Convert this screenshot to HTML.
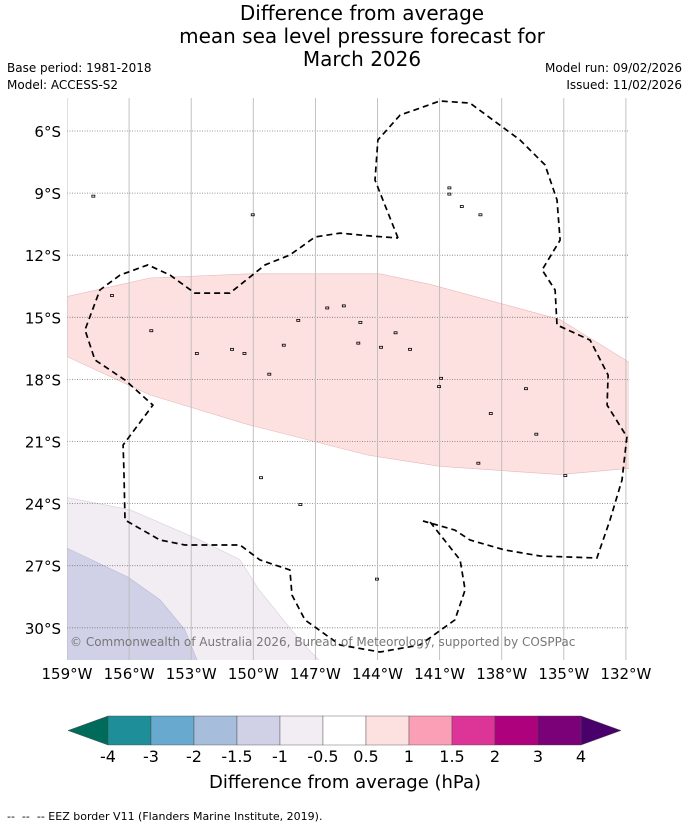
<!DOCTYPE html>
<html><head><meta charset="utf-8"><style>
body{margin:0;background:#fff;width:690px;height:827px;overflow:hidden;font-family:"DejaVu Sans","Liberation Sans",sans-serif}
text{font-family:"DejaVu Sans","Liberation Sans",sans-serif}
</style></head><body>
<svg id="chart" width="690" height="827" viewBox="0 0 690 827" xmlns="http://www.w3.org/2000/svg">
<g font-size="20" text-anchor="middle" fill="#000">
<text x="362" y="20">Difference from average</text>
<text x="362" y="43">mean sea level pressure forecast for</text>
<text x="362" y="66">March 2026</text>
</g>
<g font-size="12" fill="#000">
<text x="7" y="72">Base period: 1981-2018</text>
<text x="7" y="89">Model: ACCESS-S2</text>
<text x="682" y="72" text-anchor="end">Model run: 09/02/2026</text>
<text x="682" y="89" text-anchor="end">Issued: 11/02/2026</text>
</g>
<defs><clipPath id="mapclip"><rect x="67" y="98" width="562" height="562"/></clipPath></defs>
<g id="map" clip-path="url(#mapclip)"></g>
<g id="axes"></g>
<text x="70" y="646" font-size="12" fill="#777">© Commonwealth of Australia 2026, Bureau of Meteorology, supported by COSPPac</text>
<g id="cbar"></g>
<text x="345" y="788" font-size="18" text-anchor="middle">Difference from average (hPa)</text>
<text x="7" y="820" font-size="11">-- &#160;-- &#160;-- EEZ border V11 (Flanders Marine Institute, 2019).</text>
</svg>
<script>
const latTicks=[6,9,12,15,18,21,24,27,30];
const lonTicks=[159,156,153,150,147,144,141,138,135,132];
const cbLevels=["-4","-3","-2","-1.5","-1","-0.5","0.5","1","1.5","2","3","4"];
const cbColors=["#1e8f98","#67a9cf","#a6bddb","#d0d1e6","#f2ecf3","#ffffff","#fde0e0","#fa9fb5","#dd3497","#ae017e","#7a0177"];
const pinkTop=[[-159,-14.0],[-155,-13.1],[-150.2,-12.9],[-143.9,-12.9],[-141.5,-13.4],[-135.2,-15.1],[-131.8,-17.2]];
const pinkBottom=[[-131.8,-22.3],[-135.2,-22.6],[-141,-22.2],[-144.5,-21.65],[-150.2,-20.2],[-155,-18.75],[-159,-16.9]];
const lavender=[[-159,-23.7],[-155.95,-24.3],[-152.6,-25.75],[-150.65,-26.7],[-149.7,-28.2],[-147.75,-30.6],[-146.8,-31.6],[-159,-31.6]];
const bluegray=[[-159,-26.15],[-156.05,-27.55],[-154.5,-28.65],[-153.3,-30.1],[-152.7,-31.6],[-159,-31.6]];
const eezA=[[-143.01,-11.17],[-144.12,-8.37],[-143.98,-6.43],[-142.91,-5.23],[-140.98,-4.55],[-139.53,-4.65],[-137.12,-6.43],[-135.91,-7.64],[-135.33,-9.33],[-135.18,-11.27],[-136.05,-12.71],[-135.42,-13.68],[-135.33,-15.37],[-133.73,-16.10],[-132.86,-17.79],[-132.91,-19.24],[-131.95,-20.78],[-132.19,-22.86],[-132.77,-24.79],[-133.4,-26.63],[-136.15,-26.53],[-137.84,-26.24],[-139.53,-25.76],[-140.26,-25.28],[-141.8,-24.84]];
const eezB=[[-141.46,-24.89],[-140.01,-26.72],[-139.77,-28.17],[-140.26,-29.62],[-141.95,-30.83],[-143.88,-31.17],[-145.81,-30.83],[-147.5,-29.62],[-148.13,-28.42],[-148.23,-27.21],[-149.68,-26.72],[-150.64,-26.0],[-152.09,-26.0],[-153.3,-26.0],[-154.51,-25.76],[-156.2,-24.79],[-156.25,-22.38],[-156.29,-21.17],[-154.85,-19.24],[-156.2,-18.03],[-157.65,-17.06],[-158.13,-15.61],[-157.41,-13.68],[-156.44,-12.96],[-155.09,-12.47],[-154.02,-12.96],[-152.82,-13.83],[-151.13,-13.83],[-149.43,-12.47],[-148.23,-11.99],[-147.02,-11.12],[-145.81,-10.93],[-144.36,-11.07],[-143.01,-11.17]];
const islands=[[-146.5,-14.5],[-145.7,-14.4],[-144.9,-15.2],[-145.0,-16.2],[-147.9,-15.1],[-148.6,-16.3],[-151.1,-16.5],[-150.5,-16.7],[-149.3,-17.7],[-143.9,-16.4],[-142.5,-16.5],[-141,-17.9],[-141.1,-18.3],[-140.6,-9.0],[-140.0,-9.6],[-139.1,-10.0],[-140.6,-8.7],[-135,-22.6],[-139.2,-22.0],[-136.4,-20.6],[-136.9,-18.4],[-157.8,-9.1],[-150.1,-10.0],[-144.1,-27.6],[-147.8,-24.0],[-155,-15.6],[-152.8,-16.7],[-156.9,-13.9],[-149.7,-22.7],[-143.2,-15.7],[-138.6,-19.6]];
const X=lon=>67+(lon+159)*62.1/3;
const Y=lat=>131+(-lat-6)*62.1/3;
const NS="http://www.w3.org/2000/svg";
function mk(t,a,p){const e=document.createElementNS(NS,t);for(const k in a)e.setAttribute(k,a[k]);p.appendChild(e);return e;}
const pts=arr=>arr.map(p=>X(p[0]).toFixed(1)+","+Y(p[1]).toFixed(1)).join(" ");
const map=document.getElementById("map");
let e;
e=mk("polygon",{points:pts(pinkTop.concat(pinkBottom)),fill:"#fde0e0",stroke:"#e8b8b8","stroke-width":0.6},map);


e=mk("polygon",{points:pts(lavender),fill:"#f2ecf3",stroke:"#d8d0dc","stroke-width":0.6},map);


e=mk("polygon",{points:pts(bluegray),fill:"#d0d1e6",stroke:"#b8bad6","stroke-width":0.6},map);


const ax=document.getElementById("axes");
latTicks.forEach(v=>{const y=Y(-v);
e=mk("line",{x1:67,x2:629,y1:y,y2:y,stroke:"#777","stroke-width":0.8,"stroke-dasharray":"1,1.5"},map);


e=mk("text",{x:61,y:y+6,"font-size":15,"text-anchor":"end"},ax);e.textContent=v+"°S";

});
lonTicks.forEach(v=>{const x=X(-v);
e=mk("line",{x1:x,x2:x,y1:98,y2:660,stroke:"#bbb","stroke-width":0.9},map);


e=mk("text",{x:x,y:679,"font-size":15,"text-anchor":"middle"},ax);e.textContent=v+"°W";

});
[eezA,eezB].forEach(a=>{e=mk("polyline",{points:pts(a),fill:"none",stroke:"#000","stroke-width":1.7,"stroke-dasharray":"6,4"},map);

});
islands.forEach(p=>{e=mk("rect",{x:X(p[0]),y:Y(p[1]),width:3,height:2,fill:"none",stroke:"#000","stroke-width":0.8},map);

});
const cb=document.getElementById("cbar");const x0=108,x1=581,y0=716,y1=745,w=(x1-x0)/cbColors.length;
e=mk("polygon",{points:`${x0},${y0} ${x0},${y1} 68,${(y0+y1)/2}`,fill:"#006b5a",stroke:"#555","stroke-width":0.5},cb);


e=mk("polygon",{points:`${x1},${y0} ${x1},${y1} 621,${(y0+y1)/2}`,fill:"#49006a",stroke:"#555","stroke-width":0.5},cb);


cbColors.forEach((c,i)=>{e=mk("rect",{x:x0+i*w,y:y0,width:w,height:y1-y0,fill:c,stroke:"#444","stroke-width":0.4},cb);

});
cbLevels.forEach((l,i)=>{e=mk("text",{x:x0+i*w,y:762,"font-size":16,"text-anchor":"middle"},cb);e.textContent=l;

});
</script>
</body></html>
